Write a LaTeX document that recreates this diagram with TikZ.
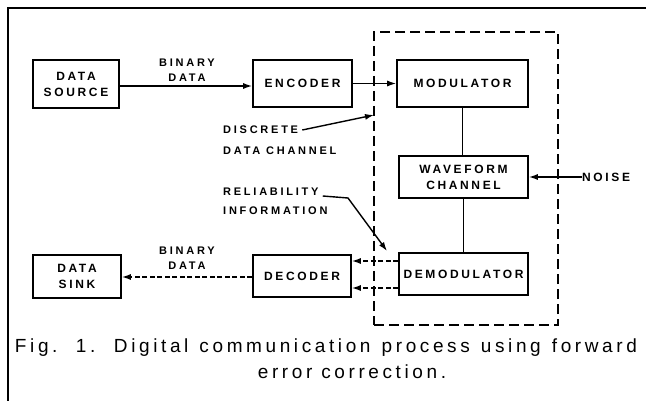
\documentclass[tikz,border=0pt]{standalone}
\usepackage{fontspec}
\setmainfont{Liberation Sans}
\newfontfamily\boxfont[LetterSpace=22]{Liberation Sans Bold}
\newfontfamily\lblfont[LetterSpace=25]{Liberation Sans Bold}
\newfontfamily\capfont[LetterSpace=19]{Liberation Sans}
\usetikzlibrary{arrows.meta}
\begin{document}
\begin{tikzpicture}[x=1pt,y=-1pt,
  blk/.style={draw, line width=1.6pt, inner sep=0pt, align=center,
    font=\boxfont\fontsize{12}{16}\selectfont},
  lbl/.style={inner sep=0pt, align=center, font=\lblfont\fontsize{11}{15}\selectfont},
  lbll/.style={inner sep=0pt, anchor=west, font=\lblfont\fontsize{11}{15}\selectfont},
  conn/.style={line width=1.4pt},
  arr/.style={line width=1.4pt, -{Latex[length=9pt,width=6pt]}},
  darr/.style={arr, dash pattern=on 5pt off 2.5pt},
  capt/.style={inner sep=0pt, font=\capfont\fontsize{19}{23}\selectfont}
  ]
\useasboundingbox (0,0) rectangle (646,401);
% outer frame (top and left only)
\draw[line width=1.5pt] (8,401) -- (8,8) -- (646,8);
% dashed channel box
\node[draw, line width=1.5pt, dash pattern=on 10pt off 5pt, minimum width=184pt, minimum height=293pt, inner sep=0pt] (chan) at (466,178.5) {};
% blocks
\node[blk, minimum width=86pt, minimum height=48pt] (src) at (76,84) {DATA\\SOURCE};
\node[blk, minimum width=99pt, minimum height=47pt] (enc) at (302.5,83.5) {ENCODER};
\node[blk, minimum width=131pt, minimum height=47pt] (mod) at (462.5,83.5) {MODULATOR};
\node[blk, minimum width=129pt, minimum height=42pt] (wave) at (463.5,177) {WAVEFORM\\CHANNEL};
\node[blk, minimum width=129pt, minimum height=42pt] (demod) at (463.5,274) {DEMODULATOR};
\node[blk, minimum width=98pt, minimum height=42pt] (dec) at (302,276) {DECODER};
\node[blk, minimum width=88pt, minimum height=43pt] (sink) at (77,276.5) {DATA\\SINK};
% labels
\node[lbl] (bd1) at (187,70) {BINARY\\DATA};
\node[lbl] (bd2) at (187,258) {BINARY\\DATA};
\node[lbll] (disc) at (223,130) {DISCRETE};
\node[lbll] (dchan) at (223,151) {DATA CHANNEL};
\node[lbll] (rel) at (223,192) {RELIABILITY};
\node[lbll] (info) at (223,211) {INFORMATION};
\node[inner sep=0pt, anchor=west, font=\boxfont\fontsize{12}{14}\selectfont] (noise) at (582,177) {NOISE};
% connectors
\draw[arr] (src.east |- 0,86) -- (enc.west |- 0,86);
\draw[arr] (enc.east) -- (mod.west);
\draw[conn] (mod.south) -- (mod.south |- wave.north);
\draw[conn] (wave.south) -- (wave.south |- demod.north);
\draw[arr] (noise.west) -- (noise.west -| wave.east);
\coordinate (dm1) at ([yshift=13pt]demod.west);
\coordinate (dm2) at ([yshift=-14pt]demod.west);
\draw[darr] (dm1) -- (dm1 -| dec.east);
\draw[darr] (dm2) -- (dm2 -| dec.east);
\draw[darr] (dec.west |- 0,277) -- (sink.east |- 0,277);
\coordinate (dtip) at (374,115);
\draw[arr] ([xshift=4pt]disc.east) -- (dtip);
\coordinate (rbend) at (348,198);
\coordinate (rtip) at (387,251);
\draw[arr] ([xshift=4pt,yshift=-4pt]rel.east) -- (rbend) -- (rtip);
% caption
\node[capt] (cap1) at (326,348) {\makebox[622pt][s]{Fig. 1. Digital communication process using forward}};
\node[capt] (cap2) at (352,372) {error correction.};
\end{tikzpicture}
\end{document}
